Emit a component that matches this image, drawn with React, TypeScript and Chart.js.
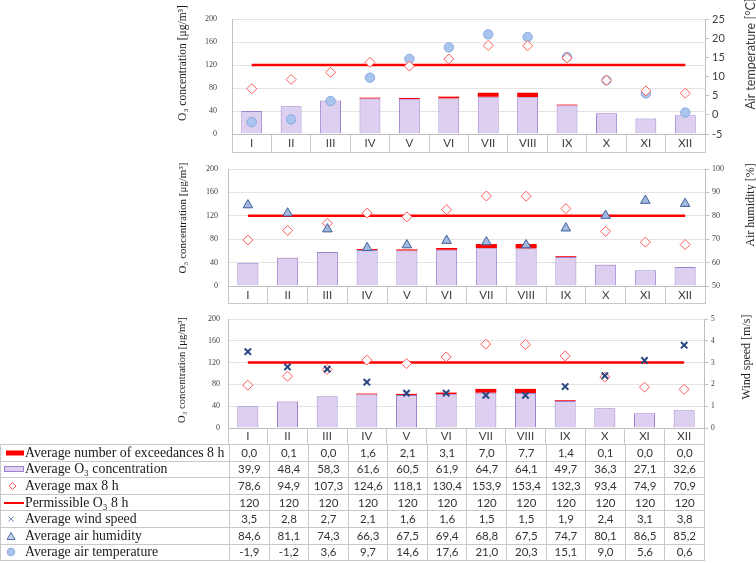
import React, { useEffect, useRef } from 'react';
import { Chart, registerables } from 'chart.js';

Chart.register(...registerables);

// ---------------- data ----------------
const months = ['I', 'II', 'III', 'IV', 'V', 'VI', 'VII', 'VIII', 'IX', 'X', 'XI', 'XII'];
const exceedances8h = [0.0, 0.1, 0.0, 1.6, 2.1, 3.1, 7.0, 7.7, 1.4, 0.1, 0.0, 0.0];
const avgO3 = [39.9, 48.4, 58.3, 61.6, 60.5, 61.9, 64.7, 64.1, 49.7, 36.3, 27.1, 32.6];
const avgMax8h = [78.6, 94.9, 107.3, 124.6, 118.1, 130.4, 153.9, 153.4, 132.3, 93.4, 74.9, 70.9];
const permissibleO3 = [120, 120, 120, 120, 120, 120, 120, 120, 120, 120, 120, 120];
const windSpeed = [3.5, 2.8, 2.7, 2.1, 1.6, 1.6, 1.5, 1.5, 1.9, 2.4, 3.1, 3.8];
const airHumidity = [84.6, 81.1, 74.3, 66.3, 67.5, 69.4, 68.8, 67.5, 74.7, 80.1, 86.5, 85.2];
const airTemperature = [-1.9, -1.2, 3.6, 9.7, 14.6, 17.6, 21.0, 20.3, 15.1, 9.0, 5.6, 0.6];

const o3Axis = { min: 0, max: 200, step: 40 };
const tempAxis = { min: -5, max: 25, step: 5 };
const humAxis = { min: 50, max: 100, step: 10 };
const windAxis = { min: 0, max: 5, step: 1 };

// ---------------- styles ----------------
const SERIF = '"Liberation Serif", "Times New Roman", serif';
const SANS = 'Lato, "Open Sans", sans-serif';
const GRID = '#e3e3e3';
const AXIS = '#bfbfbf';
const ROWLINE = '#c8c8c8';
const BAR_FILL = '#dccff0';
const BAR_BORDER = '#9d82cf';
const RED = '#ff0000';
const DIAMOND = '#ff5a5a';

const rowLinePlugin = {
  id: 'rowLine',
  afterDraw(chart: any) {
    const xs = chart.scales.x;
    const ctx = chart.ctx;
    ctx.save();
    ctx.strokeStyle = ROWLINE;
    ctx.lineWidth = 1;
    const y = Math.round(xs.bottom) - 0.5;
    ctx.beginPath();
    ctx.moveTo(xs.left, y);
    ctx.lineTo(xs.right, y);
    ctx.stroke();
    ctx.restore();
  },
};

type Spec = {
  top: number;
  height: number;
  padTop: number;
  padBottom: number;
  rowH: number;
  leftW: number;
  rightW: number;
  leftTickPad: number;
  right: { min: number; max: number; step: number };
  rightFont: any;
  rightDs: any;
  rightOnTop: boolean;
};

function buildConfig(s: Spec): any {
  const maxDs = {
    type: 'line', label: 'Average max 8 h', data: avgMax8h, yAxisID: 'y', stack: 'max',
    showLine: false, pointStyle: 'rectRot', pointRadius: 5, pointHoverRadius: 5,
    pointBackgroundColor: '#ffffff', pointBorderColor: DIAMOND, pointBorderWidth: 1,
  };
  const permDs = {
    type: 'line', label: 'Permissible O₃ 8 h', data: permissibleO3, yAxisID: 'y', stack: 'perm',
    borderColor: RED, borderWidth: 2.5, pointRadius: 0, fill: false,
  };
  const o3Ds = {
    type: 'bar', label: 'Average O₃ concentration', data: avgO3, yAxisID: 'y', stack: 'bars',
    backgroundColor: BAR_FILL, borderColor: BAR_BORDER, borderWidth: 1,
    barPercentage: 0.53, categoryPercentage: 1,
  };
  const excDs = {
    type: 'bar', label: 'Average number of exceedances 8 h', data: exceedances8h, yAxisID: 'y', stack: 'bars',
    backgroundColor: RED, borderWidth: 0, barPercentage: 0.53, categoryPercentage: 1,
  };
  const rightDs = { type: 'line', yAxisID: 'y1', showLine: false, ...s.rightDs };
  const datasets = s.rightOnTop
    ? [rightDs, maxDs, permDs, o3Ds, excDs]
    : [maxDs, rightDs, permDs, o3Ds, excDs];
  const xFontSize = 11.5;
  return {
    type: 'bar',
    data: { labels: months, datasets },
    plugins: [rowLinePlugin],
    options: {
      responsive: false,
      maintainAspectRatio: false,
      animation: false,
      devicePixelRatio: 1,
      layout: { padding: { top: s.padTop, bottom: s.padBottom, left: 0, right: 0 } },
      plugins: { legend: { display: false }, tooltip: { enabled: false }, title: { display: false } },
      scales: {
        x: {
          type: 'category', stacked: true, offset: true,
          grid: { offset: true, drawOnChartArea: false, drawTicks: true, tickLength: s.rowH, color: ROWLINE, lineWidth: 1 },
          border: { display: true, color: AXIS },
          ticks: {
            autoSkip: false, maxRotation: 0, minRotation: 0, color: '#404040',
            font: { family: SANS, size: xFontSize, lineHeight: 1.2 },
            padding: -(s.rowH / 2 + (xFontSize * 1.2) / 2),
          },
          afterFit: (sc: any) => { sc.height = s.rowH; },
        },
        y: {
          type: 'linear', position: 'left', stacked: true, min: o3Axis.min, max: o3Axis.max,
          ticks: { stepSize: o3Axis.step, color: '#404040', font: { family: SERIF, size: 8, lineHeight: 1 }, padding: s.leftTickPad },
          grid: { color: GRID, drawTicks: false },
          border: { display: true, color: AXIS },
          afterFit: (sc: any) => { sc.width = s.leftW; },
        },
        y1: {
          type: 'linear', position: 'right', min: s.right.min, max: s.right.max,
          ticks: { stepSize: s.right.step, color: '#404040', font: s.rightFont, padding: 3 },
          grid: { drawOnChartArea: false, drawTicks: true, tickLength: 4, color: AXIS },
          border: { display: true, color: AXIS },
          afterFit: (sc: any) => { sc.width = s.rightW; },
        },
      },
    },
  };
}

const specs: Spec[] = [
  {
    top: 0, height: 156, padTop: 5, padBottom: 3, rowH: 19, leftW: 232, rightW: 51, leftTickPad: 15,
    right: tempAxis, rightFont: { family: SANS, size: 11, lineHeight: 0.9 }, rightOnTop: false,
    rightDs: {
      label: 'Average air temperature', data: airTemperature, pointStyle: 'circle', pointRadius: 4.7,
      pointHoverRadius: 4.7, pointBackgroundColor: '#a9c5ee', pointBorderColor: '#8aaade', pointBorderWidth: 1,
    },
  },
  {
    top: 155, height: 151, padTop: 12.5, padBottom: 2, rowH: 18, leftW: 228, rightW: 51, leftTickPad: 10,
    right: humAxis, rightFont: { family: SERIF, size: 8, lineHeight: 1 }, rightOnTop: true,
    rightDs: {
      label: 'Average air humidity', data: airHumidity, pointStyle: 'triangle', pointRadius: 5.5,
      pointHoverRadius: 5.5, pointBackgroundColor: '#a3b9e0', pointBorderColor: '#3f5f99', pointBorderWidth: 1,
    },
  },
  {
    top: 305, height: 141, padTop: 14, padBottom: 1.5, rowH: 16.5, leftW: 228, rightW: 52, leftTickPad: 8,
    right: windAxis, rightFont: { family: SERIF, size: 7.5, lineHeight: 1 }, rightOnTop: true,
    rightDs: {
      label: 'Average wind speed', data: windSpeed, pointStyle: 'crossRot', pointRadius: 4.5,
      pointHoverRadius: 4.5, pointBorderColor: '#2a4680', pointBorderWidth: 2,
    },
  },
];

function ChartBox({ spec }: { spec: Spec }) {
  const ref = useRef<HTMLCanvasElement>(null);
  useEffect(() => {
    const chart = new Chart(ref.current as HTMLCanvasElement, buildConfig(spec));
    return () => chart.destroy();
  }, []);
  return (
    <canvas
      ref={ref}
      width={756}
      height={spec.height}
      style={{ position: 'absolute', left: 0, top: spec.top, width: 756, height: spec.height }}
    />
  );
}

function VTitle({ text, cx, cy, font, size, color }: any) {
  return (
    <div
      style={{
        position: 'absolute', left: cx, top: cy, transform: 'translate(-50%, -50%) rotate(-90deg)',
        whiteSpace: 'nowrap', fontFamily: font, fontSize: size, color, lineHeight: 1,
      }}
    >
      {text}
    </div>
  );
}

const fmt = (v: number, dec: boolean) => (dec ? v.toFixed(1).replace('.', ',') : String(v));

const icons: Record<string, React.ReactNode> = {
  exc: <rect x={5} y={3.5} width={18} height={5} fill={RED} />,
  o3: <rect x={3.5} y={3.5} width={19} height={5} fill={BAR_FILL} stroke={BAR_BORDER} strokeWidth={1} />,
  max: <polygon points="11.5,2.5 15,6 11.5,9.5 8,6" fill="#fff" stroke={DIAMOND} strokeWidth={1} />,
  perm: <line x1={3} y1={6} x2={23} y2={6} stroke={RED} strokeWidth={2} />,
  wind: (
    <g stroke="#6d8bbd" strokeWidth={1}>
      <line x1={7.5} y1={3.5} x2={12.5} y2={8.5} />
      <line x1={12.5} y1={3.5} x2={7.5} y2={8.5} />
    </g>
  ),
  hum: <polygon points="10,2.5 14,9.5 6,9.5" fill="#c9d7ee" stroke="#4f6fa8" strokeWidth={1} />,
  temp: <circle cx={10} cy={6} r={3.8} fill="#a9c5ee" stroke="#8aaade" strokeWidth={1} />,
};

const tableRows = [
  { key: 'exc', label: 'Average number of exceedances 8 h', values: exceedances8h, dec: true },
  { key: 'o3', label: 'Average O₃ concentration', values: avgO3, dec: true },
  { key: 'max', label: 'Average max 8 h', values: avgMax8h, dec: true },
  { key: 'perm', label: 'Permissible O₃ 8 h', values: permissibleO3, dec: false },
  { key: 'wind', label: 'Average wind speed', values: windSpeed, dec: true },
  { key: 'hum', label: 'Average air humidity', values: airHumidity, dec: true },
  { key: 'temp', label: 'Average air temperature', values: airTemperature, dec: true },
];

function DataTable() {
  const cell: React.CSSProperties = {
    border: `1px solid ${ROWLINE}`, padding: 0, textAlign: 'center', fontFamily: SANS,
    fontSize: 11.5, color: '#333', lineHeight: '14px', whiteSpace: 'nowrap', overflow: 'hidden',
  };
  const labelCell: React.CSSProperties = {
    ...cell, textAlign: 'left', fontFamily: SERIF, fontSize: 13.8, color: '#1a1a1a',
  };
  return (
    <table
      style={{
        position: 'absolute', left: 0, top: 444, borderCollapse: 'collapse', tableLayout: 'fixed', width: 704,
      }}
    >
      <colgroup>
        <col style={{ width: 229 }} />
        {months.map((m) => (
          <col key={m} style={{ width: 39.58 }} />
        ))}
      </colgroup>
      <tbody>
        {tableRows.map((r) => (
          <tr key={r.key} style={{ height: 16.6 }}>
            <td style={labelCell}>
              <div style={{ display: 'flex', alignItems: 'center' }}>
                <svg width={24} height={12} style={{ flex: '0 0 24px' }}>
                  {icons[r.key]}
                </svg>
                <span>{r.label}</span>
              </div>
            </td>
            {r.values.map((v, i) => (
              <td key={i} style={cell}>
                {fmt(v, r.dec)}
              </td>
            ))}
          </tr>
        ))}
      </tbody>
    </table>
  );
}

export default function App() {
  return (
    <div style={{ position: 'absolute', left: 0, top: 0, width: 756, height: 563, background: '#fff', overflow: 'hidden' }}>
      {specs.map((s, i) => (
        <ChartBox key={i} spec={s} />
      ))}
      <VTitle text="O₃ concentration [μg/m³]" cx={182.5} cy={63} font={SERIF} size={11.5} color="#1a1a1a" />
      <VTitle text="Air temperature [°C]" cx={750.5} cy={54} font={SANS} size={12.5} color="#404040" />
      <VTitle text="O₃ concentration [μg/m³]" cx={182} cy={218} font={SERIF} size={11} color="#1a1a1a" />
      <VTitle text="Air humidity [%]" cx={750} cy={205} font={SERIF} size={12} color="#1a1a1a" />
      <VTitle text="O₃ concentration [μg/m³]" cx={181.5} cy={370} font={SERIF} size={10.5} color="#1a1a1a" />
      <VTitle text="Wind speed [m/s]" cx={746} cy={357} font={SERIF} size={12} color="#1a1a1a" />
      <DataTable />
    </div>
  );
}
